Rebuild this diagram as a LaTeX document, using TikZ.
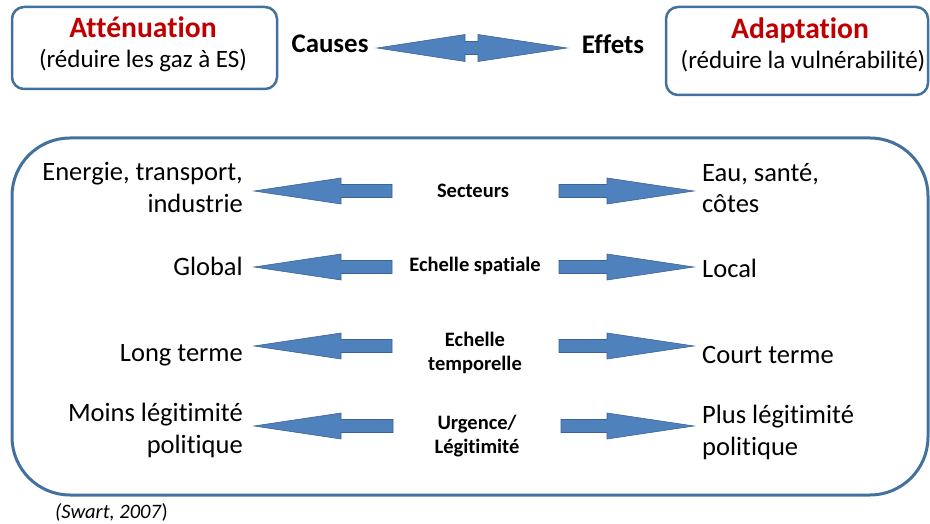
\documentclass[tikz,border=0pt]{standalone}
\usepackage{fontspec}
\setmainfont{Carlito}[Ligatures=NoCommon]

\definecolor{bord}{HTML}{41719C}
\definecolor{bleu}{HTML}{4F81BD}
\definecolor{bleufonce}{HTML}{3A6494}
\definecolor{titre}{HTML}{C00000}

\begin{document}
\begin{tikzpicture}[
  x=1pt, y=-1pt,
  boite/.style={draw=bord, line width=2.5pt, rounded corners=12pt},
  cadre/.style={draw=bord, line width=3pt, rounded corners=58pt},
  fleche/.style={fill=bleu, draw=bleufonce, line width=0.6pt},
  grand/.style={font=\fontsize{26.5}{32}\selectfont, inner sep=0pt, anchor=base},
  milieu/.style={font=\bfseries\fontsize{20.5}{24}\selectfont, align=center, inner sep=0pt, anchor=base},
]
\useasboundingbox (0,0) rectangle (930,524);

% en-tete
\draw [boite] (12,7) rectangle (277,89);
\node [grand, font=\bfseries\fontsize{29.6}{34}\selectfont, text=titre] (att) at (143,38) {Atténuation};
\node [grand, font=\fontsize{25}{30}\selectfont] (attsub) at (143,68) {(réduire les gaz à ES)};

\draw [boite] (666,7) rectangle (928,95);
\node [grand, font=\bfseries\fontsize{29.6}{34}\selectfont, text=titre] (adapt) at (800,39) {Adaptation};
\node [grand, font=\fontsize{25}{30}\selectfont] (adaptsub) at (803,69) {(réduire la vulnérabilité)};

\node [grand, font=\bfseries\fontsize{26.9}{32}\selectfont] (causes) at (330,53) {Causes};
\node [grand, font=\bfseries\fontsize{26.9}{32}\selectfont] (effets) at (613,54) {Effets};
\path [fleche] (377,48) -- (465,34.5) -- (465,41.5) -- (478,41.5) -- (478,34.5) -- (567,48)
  -- (478,61.5) -- (478,54.5) -- (465,54.5) -- (465,61.5) -- cycle;

% cadre principal
\draw [cadre] (12,138) rectangle (928,495);

\node [grand, align=right, anchor=base east] (ener) at (243,212) {Energie, transport,\\industrie};
\node [grand, align=left, anchor=base west] (eau) at (702,213) {Eau, santé,\\côtes};
\node [milieu] (sect) at (473,197) {Secteurs};
\path [fleche] (254,191) -- (341,178) -- (341,184.5) -- (392,184.5) -- (392,197.5) -- (341,197.5) -- (341,204) -- cycle;
\path [fleche] (694,191) -- (607,178) -- (607,184.5) -- (559,184.5) -- (559,197.5) -- (607,197.5) -- (607,204) -- cycle;

\node [grand, anchor=base east] (glob) at (243,275) {Global};
\node [grand, anchor=base west] (loc) at (702,277) {Local};
\node [milieu] (spat) at (475,272) {Echelle spatiale};
\path [fleche] (254,267) -- (341,254) -- (341,260.5) -- (392,260.5) -- (392,273.5) -- (341,273.5) -- (341,280) -- cycle;
\path [fleche] (694,267) -- (607,254) -- (607,260.5) -- (559,260.5) -- (559,273.5) -- (607,273.5) -- (607,280) -- cycle;

\node [grand, anchor=base east] (long) at (243,361) {Long terme};
\node [grand, anchor=base west] (court) at (702,363) {Court terme};
\node [milieu] (temp) at (475,370) {Echelle\\temporelle};
\path [fleche] (254,346) -- (341,333) -- (341,339.5) -- (392,339.5) -- (392,352.5) -- (341,352.5) -- (341,359) -- cycle;
\path [fleche] (694,346) -- (607,333) -- (607,339.5) -- (559,339.5) -- (559,352.5) -- (607,352.5) -- (607,359) -- cycle;

\node [grand, align=right, anchor=base east] (moins) at (243,453) {Moins légitimité\\politique};
\node [grand, align=left, anchor=base west] (plus) at (702,455) {Plus légitimité\\politique};
\node [milieu] (urg) at (477,453) {Urgence/\\Légitimité};
\path [fleche] (254,426) -- (341,413) -- (341,419.5) -- (393,419.5) -- (393,432.5) -- (341,432.5) -- (341,439) -- cycle;
\path [fleche] (694,426) -- (607,413) -- (607,419.5) -- (561,419.5) -- (561,432.5) -- (607,432.5) -- (607,439) -- cycle;

\node [grand, font=\fontsize{20.5}{24}\selectfont, anchor=base west] (src) at (55,518) {\textit{(Swart, 2007}\/)};

\end{tikzpicture}
\end{document}
